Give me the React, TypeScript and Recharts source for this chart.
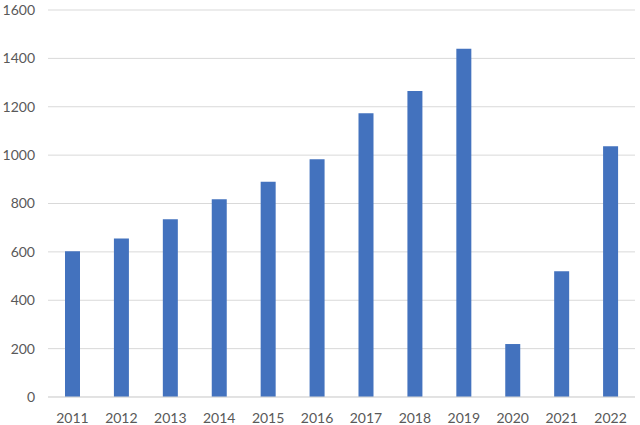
import { BarChart, Bar, XAxis, YAxis, CartesianGrid } from "recharts";

const years = ["2011", "2012", "2013", "2014", "2015", "2016", "2017", "2018", "2019", "2020", "2021", "2022"];
const values = [603, 655, 735, 818, 890, 983, 1173, 1265, 1440, 219, 520, 1037];
const yTicks = [0, 200, 400, 600, 800, 1000, 1200, 1400, 1600];

const data = years.map((year, i) => ({ year, value: values[i] }));

const tickStyle = { fontSize: 14, fill: "#595959", fontFamily: "Lato, 'Open Sans', sans-serif" };

export default function App() {
  return (
    <div style={{ position: "absolute", left: 0, top: 0, width: 640, height: 425, background: "#fff" }}>
      <BarChart width={640} height={425} data={data} margin={{ top: 10, right: 5, left: 0, bottom: 0 }}>
        <CartesianGrid vertical={false} stroke="#d9d9d9" strokeWidth={1} />
        <XAxis
          dataKey="year"
          height={28}
          tickLine={false}
          axisLine={{ stroke: "#d9d9d9" }}
          tick={tickStyle}
          tickMargin={10}
        />
        <YAxis
          width={48}
          domain={[0, 1600]}
          ticks={yTicks}
          axisLine={false}
          tickLine={false}
          tick={tickStyle}
          tickMargin={7}
        />
        <Bar dataKey="value" fill="#4372BE" barSize={15} isAnimationActive={false} />
      </BarChart>
    </div>
  );
}
